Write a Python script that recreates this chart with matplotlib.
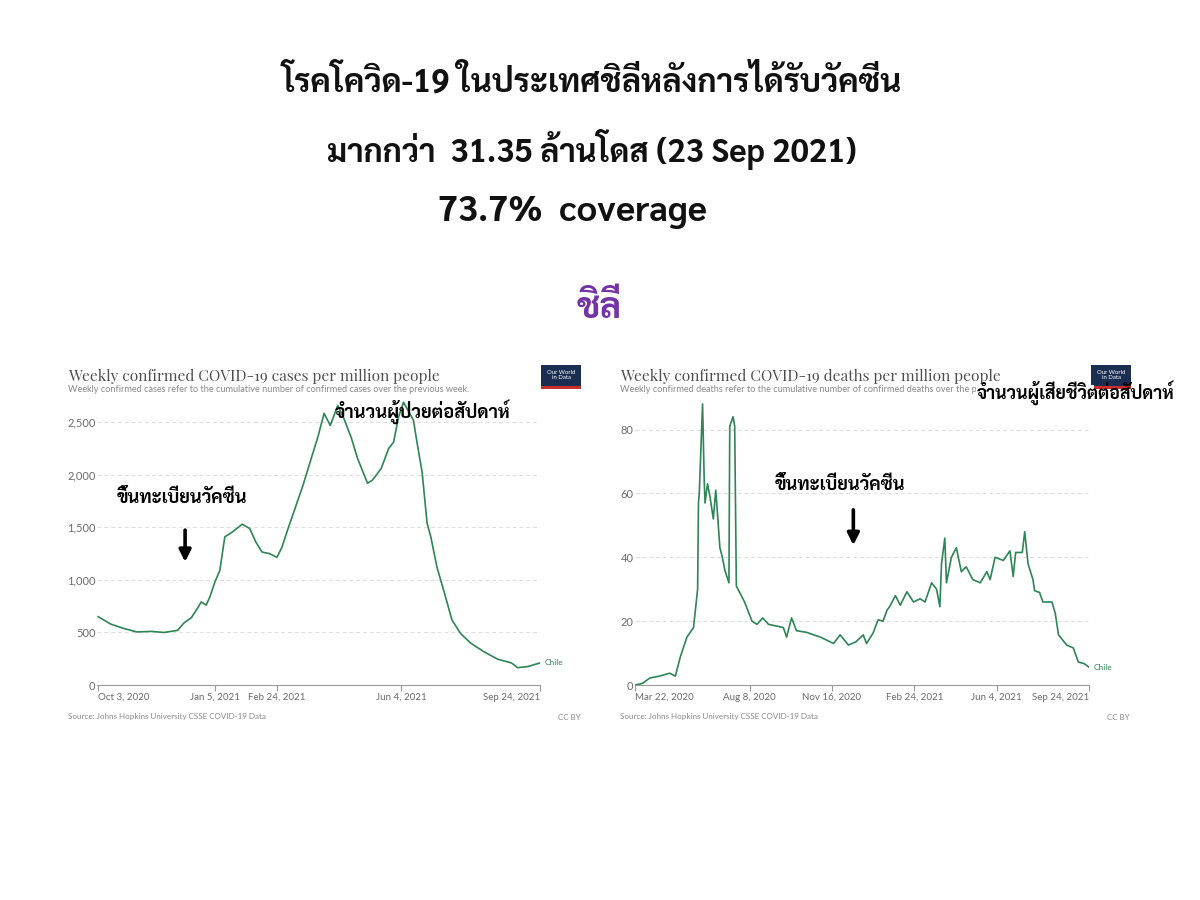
import matplotlib
matplotlib.use("Agg")
import matplotlib.pyplot as plt
import matplotlib.patches as mpatches
import pandas as pd

# ---------------- data ----------------
case_dates = ["2020-10-03", "2020-10-13", "2020-10-23", "2020-11-03", "2020-11-15", "2020-11-25",
              "2020-12-06", "2020-12-11", "2020-12-17", "2020-12-22", "2020-12-25", "2020-12-29",
              "2021-01-01", "2021-01-05", "2021-01-09", "2021-01-13", "2021-01-19", "2021-01-27",
              "2021-02-02", "2021-02-07", "2021-02-12", "2021-02-18", "2021-02-24", "2021-02-28",
              "2021-03-05", "2021-03-10", "2021-03-17", "2021-03-24", "2021-03-29", "2021-04-03",
              "2021-04-08", "2021-04-14", "2021-04-19", "2021-04-25", "2021-04-30", "2021-05-08",
              "2021-05-12", "2021-05-19", "2021-05-25", "2021-05-29", "2021-06-02", "2021-06-06",
              "2021-06-14", "2021-06-17", "2021-06-21", "2021-06-25", "2021-06-28", "2021-07-03",
              "2021-07-09", "2021-07-15", "2021-07-22", "2021-07-30", "2021-08-10", "2021-08-21",
              "2021-09-01", "2021-09-06", "2021-09-14", "2021-09-24"]
case_values = [650, 580, 540, 505, 510, 500,
               520, 590, 640, 730, 790, 760,
               840, 980, 1090, 1410, 1455, 1530,
               1490, 1360, 1265, 1250, 1215, 1310,
               1490, 1660, 1900, 2170, 2360, 2585,
               2470, 2660, 2535, 2350, 2155, 1920,
               1950, 2060, 2250, 2310, 2550, 2690,
               2520, 2300, 2025, 1540, 1410, 1120,
               875, 620, 490, 400, 315, 245,
               210, 165, 175, 210]

death_dates = ["2020-03-22", "2020-03-31", "2020-04-09", "2020-04-21", "2020-05-03", "2020-05-10",
               "2020-05-16", "2020-05-24", "2020-06-01", "2020-06-06", "2020-06-07", "2020-06-08",
               "2020-06-12", "2020-06-14", "2020-06-15", "2020-06-18", "2020-06-21", "2020-06-25",
               "2020-06-28", "2020-06-30", "2020-07-03", "2020-07-06", "2020-07-09", "2020-07-14",
               "2020-07-15", "2020-07-19", "2020-07-21", "2020-07-23", "2020-07-27", "2020-08-02",
               "2020-08-11", "2020-08-17", "2020-08-24", "2020-08-31", "2020-09-18", "2020-09-22",
               "2020-09-28", "2020-10-04", "2020-10-16", "2020-11-02", "2020-11-18", "2020-11-26",
               "2020-12-06", "2020-12-15", "2020-12-24", "2020-12-28", "2021-01-05", "2021-01-11",
               "2021-01-17", "2021-01-22", "2021-01-25", "2021-02-01", "2021-02-07", "2021-02-15",
               "2021-02-23", "2021-03-03", "2021-03-09", "2021-03-17", "2021-03-23", "2021-03-27",
               "2021-03-29", "2021-04-02", "2021-04-04", "2021-04-10", "2021-04-16", "2021-04-22",
               "2021-04-28", "2021-05-06", "2021-05-15", "2021-05-23", "2021-05-27", "2021-06-02",
               "2021-06-12", "2021-06-20", "2021-06-24", "2021-06-27", "2021-07-05", "2021-07-08",
               "2021-07-12", "2021-07-18", "2021-07-20", "2021-07-26", "2021-07-30", "2021-08-10",
               "2021-08-14", "2021-08-18", "2021-08-28", "2021-09-05", "2021-09-11", "2021-09-18",
               "2021-09-24"]
death_values = [0, 0.5, 2.2, 2.8, 3.7, 2.8,
                8.8, 15, 18, 30, 57, 60,
                88, 64, 57, 63, 59, 52,
                61, 54, 43, 40, 36, 32,
                81, 84, 81, 31, 29, 26,
                20, 19, 21, 19, 18, 15,
                21, 17, 16.5, 15, 13, 15.7,
                12.5, 13.5, 15.7, 13, 16.3, 20.4,
                20, 23.5, 24.5, 28, 25, 29.2,
                26, 27, 26, 32, 30, 24.5,
                38, 46, 32, 40, 43, 35.5,
                37, 33, 32, 35.5, 33, 40,
                39, 42, 34, 41.5, 41.5, 48,
                38, 33, 29.5, 29, 26, 26,
                22.5, 15.7, 12.5, 11.6, 7.2, 6.7,
                5.6]

case_xticks = ["2020-10-03", "2021-01-05", "2021-02-24", "2021-06-04", "2021-09-24"]
case_xlabels = ["Oct 3, 2020", "Jan 5, 2021", "Feb 24, 2021", "Jun 4, 2021", "Sep 24, 2021"]
case_yticks = [0, 500, 1000, 1500, 2000, 2500]
case_ylabels = ["0", "500", "1,000", "1,500", "2,000", "2,500"]

death_xticks = ["2020-03-22", "2020-08-08", "2020-11-16", "2021-02-24", "2021-06-04", "2021-09-24"]
death_xlabels = ["Mar 22, 2020", "Aug 8, 2020", "Nov 16, 2020", "Feb 24, 2021", "Jun 4, 2021", "Sep 24, 2021"]
death_yticks = [0, 20, 40, 60, 80]
death_ylabels = ["0", "20", "40", "60", "80"]

title1 = "โรคโควิด-19 ในประเทศชิลีหลังการได้รับวัคซีน"
title2 = "มากกว่า  31.35 ล้านโดส (23 Sep 2021)"
title3 = "73.7%  coverage"
country_th = "ชิลี"
vacc_label = "ขึ้นทะเบียนวัคซีน"
cases_label = "จำนวนผู้ป่วยต่อสัปดาห์"
deaths_label = "จำนวนผู้เสียชีวิตต่อสัปดาห์"
vacc_date = "2020-12-12"

# ---------------- style ----------------
W, H = 1200, 900
GREEN = "#2e8555"
GREY_TXT = "#6b6b6b"
THAI = ["Sarabun", "Noto Sans", "DejaVu Sans"]
SANS = ["Lato", "DejaVu Sans"]
SERIF = ["Playfair Display", "DejaVu Serif"]

fig = plt.figure(figsize=(12, 9), dpi=100)
fig.patch.set_facecolor("white")


def P(x, y):
    return x / W, 1 - y / H


def ftext(x, y, s, **kw):
    fx, fy = P(x, y)
    return fig.text(fx, fy, s, **kw)


# headline
ftext(592, 82, title1, ha="center", va="center", fontsize=23.4, fontweight="bold",
      family=THAI, color="#111111")
ftext(592, 150, title2, ha="center", va="center", fontsize=23.2, fontweight="bold",
      family=THAI, color="#111111")
ftext(572, 212, title3, ha="center", va="center", fontsize=25.5, fontweight="bold",
      family=THAI, color="#111111")
ftext(599, 309, country_th, ha="center", va="center", fontsize=26, fontweight="bold",
      family=THAI, color="#7434a8")


def panel(x0, x1, ylim, dates, values, xticks, xlabels, yticks, ylabels,
          title, subtitle, xlim, text_x, logo_x, ccby_x):
    bottom = 685
    ax_top = 396
    l, b = P(x0, bottom)
    w = (x1 - x0) / W
    h = (bottom - ax_top) / H
    ax = fig.add_axes([l, b, w, h])
    d = pd.to_datetime(dates)
    ax.plot(d, values, color=GREEN, lw=1.2, solid_joinstyle="round")
    ax.set_xlim(pd.to_datetime(xlim[0]), pd.to_datetime(xlim[1]))
    ax.set_ylim(*ylim)
    ax.set_yticks(yticks)
    ax.set_yticklabels(ylabels, family=SANS, fontsize=8, color=GREY_TXT)
    ax.set_xticks(pd.to_datetime(xticks))
    labs = ax.set_xticklabels(xlabels, family=SANS, fontsize=7, color=GREY_TXT)
    labs[0].set_ha("left")
    labs[-1].set_ha("right")
    for s in ["top", "right", "left"]:
        ax.spines[s].set_visible(False)
    ax.spines["bottom"].set_color("#9a9a9a")
    ax.spines["bottom"].set_linewidth(0.8)
    ax.tick_params(axis="y", length=0, pad=1)
    ax.tick_params(axis="x", length=4, color="#9a9a9a", pad=1.5, direction="out")
    ax.grid(axis="y", color="#dddddd", linestyle=(0, (4, 3)), lw=0.7)
    ax.set_axisbelow(True)
    ax.set_facecolor("none")
    # series label at end of line
    ax.annotate("Chile", xy=(d[-1], values[-1]), xytext=(3, 0), textcoords="offset points",
                va="center", ha="left", fontsize=6, color=GREEN, family=SANS,
                annotation_clip=False)
    # header texts
    ftext(text_x, 376, title, ha="left", va="center",
          fontsize=11.1, family=SERIF, color="#4d4d4d")
    ftext(text_x, 390, subtitle, ha="left", va="center",
          fontsize=6.6, family=SANS, color="#8a8a8a")
    ftext(text_x, 717,
          "Source: Johns Hopkins University CSSE COVID-19 Data", ha="left", va="center",
          fontsize=5.8, family=SANS, color="#8a8a8a")
    ftext(ccby_x, 717, "CC BY", ha="right", va="center", fontsize=5.8, family=SANS,
          color="#8a8a8a")
    # logo
    lx, ly = P(logo_x, 389)
    fig.patches.append(mpatches.Rectangle((lx, ly), 40 / W, 24 / H, transform=fig.transFigure,
                                          facecolor="#1a2e52", edgecolor="none"))
    fig.patches.append(mpatches.Rectangle((lx, ly), 40 / W, 3 / H, transform=fig.transFigure,
                                          facecolor="#c9302c", edgecolor="none"))
    ftext(logo_x + 20, 375, "Our World\nin Data", ha="center", va="center", fontsize=4.3,
          family=SANS, color="white", linespacing=0.9)
    return ax


ax1 = panel(97, 540, (0, 2750), case_dates, case_values, case_xticks, case_xlabels,
            case_yticks, case_ylabels, "Weekly confirmed COVID-19 cases per million people",
            "Weekly confirmed cases refer to the cumulative number of confirmed cases over the previous week.",
            ("2020-10-02", "2021-09-24"), 68, 541, 581)
ax2 = panel(635, 1089, (0, 90.5), death_dates, death_values, death_xticks, death_xlabels,
            death_yticks, death_ylabels, "Weekly confirmed COVID-19 deaths per million people",
            "Weekly confirmed deaths refer to the cumulative number of confirmed deaths over the previous week.",
            ("2020-03-22", "2021-09-24"), 620, 1091, 1130)

# annotations
vd = pd.to_datetime(vacc_date)
for ax, y0, y1 in [(ax1, 0.536, 0.426), (ax2, 0.606, 0.484)]:
    ax.annotate("", xy=(vd, y1), xytext=(vd, y0), xycoords=("data", "axes fraction"),
                textcoords=("data", "axes fraction"),
                arrowprops=dict(arrowstyle="-|>,head_length=0.7,head_width=0.35", color="black",
                                lw=2.6, shrinkA=0, shrinkB=0), annotation_clip=False)

ftext(182, 498, vacc_label, ha="center", va="center", fontsize=13.1, fontweight="bold",
      family=THAI, color="black")
ftext(840, 485, vacc_label, ha="center", va="center", fontsize=13.1, fontweight="bold",
      family=THAI, color="black")
ftext(423, 412, cases_label, ha="center", va="center", fontsize=13.2, fontweight="bold",
      family=THAI, color="black")

# white patch hiding the end of the deaths subtitle, under the Thai label (as in the reference)
cx, cy = P(976, 396)
fig.add_artist(mpatches.Rectangle((cx, cy), 118 / W, 11 / H, transform=fig.transFigure,
                                  facecolor="white", edgecolor="none", zorder=4))
ftext(1076, 393, deaths_label, ha="center", va="center", fontsize=12.8, fontweight="bold",
      family=THAI, color="black", zorder=5)

fig.savefig("out.png", dpi=100, facecolor="white")
